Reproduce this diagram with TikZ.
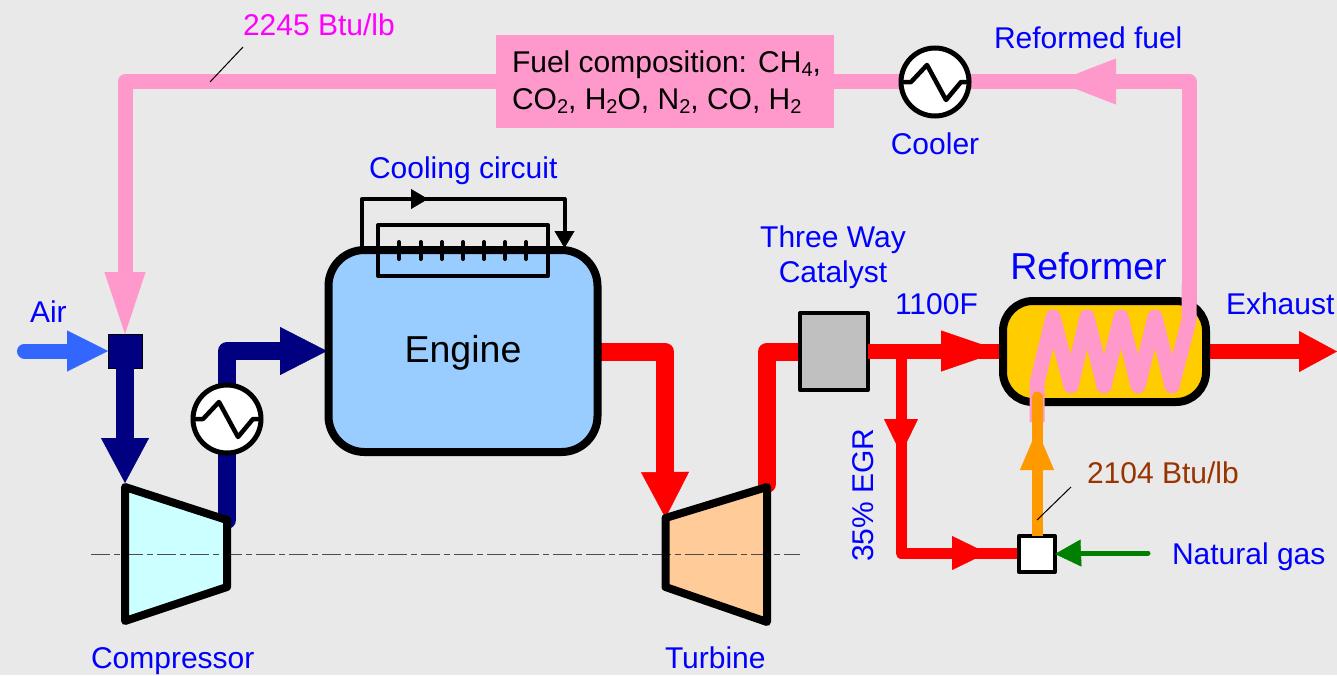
\documentclass[tikz,border=0pt]{standalone}
\usepackage{fontspec}
\setmainfont{Liberation Sans}
\usetikzlibrary{arrows.meta}
\definecolor{bgc}{HTML}{E9E9E9}
\definecolor{pinkc}{HTML}{FF99CC}
\definecolor{navyc}{HTML}{000080}
\definecolor{airc}{HTML}{3366FF}
\definecolor{redc}{HTML}{FF0000}
\definecolor{orangec}{HTML}{FF9900}
\definecolor{greenc}{HTML}{008000}
\definecolor{brownc}{HTML}{993300}
\definecolor{bluec}{HTML}{0000FF}
\definecolor{magc}{HTML}{FF00FF}
\definecolor{engc}{HTML}{99CCFF}
\definecolor{compc}{HTML}{CCFFFF}
\definecolor{turbc}{HTML}{FFCC99}
\definecolor{refc}{HTML}{FFCC00}
\definecolor{catc}{HTML}{C0C0C0}
\newcommand{\sbs}[1]{\raisebox{-4pt}{\fontsize{20}{20}\selectfont #1}}
\tikzset{
  lab/.style={anchor=base west,inner sep=0pt,outer sep=0pt,text=bluec,font=\fontsize{30}{36}\selectfont},
  labc/.style={anchor=base,inner sep=0pt,outer sep=0pt,text=bluec,font=\fontsize{30}{36}\selectfont},
  big/.style={anchor=base,inner sep=0pt,outer sep=0pt,font=\fontsize{37.5}{44}\selectfont},
  pipe/.style={line join=round,line width=#1},
  head/.style n args={2}{-{Triangle[length=#1pt,width=#2pt]}},
  hxcirc/.style={circle,draw=black,fill=white,line width=5pt,minimum size=68pt,inner sep=0pt,outer sep=0pt},
  hx/.pic={\draw[line width=4.5pt,line join=round,line cap=round] (-31,0) -- (-24,0) -- (-8,-17) -- (11,18) -- (26,0) -- (31,0);},
  leader/.style={line width=1pt,black},
  box/.style={draw=black,inner sep=0pt,outer sep=0pt},
  fueltext/.style={anchor=base west,inner sep=0pt,outer sep=0pt,font=\fontsize{30}{36}\selectfont},
  axisline/.style={line width=1pt,black!70,dash pattern=on 19pt off 4pt on 6pt off 4pt},
}
\begin{document}
\begin{tikzpicture}[x=1pt,y=-1pt]
\useasboundingbox[fill=bgc] (0,0) rectangle (1337,675);
% anchors
\coordinate (pTR) at (1189,81.5);
\coordinate (pTL) at (125,81.5);
\coordinate (airs) at (24.5,351);
\coordinate (comptl) at (125,487);
\coordinate (compout) at (227,520);
\coordinate (comptr) at (227,520);
\coordinate (compbr) at (227,587);
\coordinate (compbl) at (125,621);
\coordinate (compbend) at (227,351);
\coordinate (turbtl) at (665.5,518);
\coordinate (turbtr) at (767,487);
\coordinate (turbbr) at (767,622);
\coordinate (turbbl) at (665.5,587);
\coordinate (engbend) at (665,351.5);
\coordinate (turbout) at (767,487);
\coordinate (turbbend) at (767,351.5);
\coordinate (egrj) at (901,351);
\coordinate (egrc) at (901,553);
\coordinate (ngs) at (1148,553);
\coordinate (exh) at (1337,351.5);
\coordinate (axa) at (91,554);
\coordinate (axb) at (800,554);
% nodes that pipes attach to
\node[fill=pinkc,minimum width=338pt,minimum height=93pt,inner sep=0pt,outer sep=0pt] (fuel) at (665,81.5) {};
\coordinate (fuelw) at (496,81.5);
\coordinate (fuele) at (834,81.5);
% pink pipe
\draw[pinkc,pipe=15pt] (1189,320) -- (pTR) -- (fuele);
\draw[pinkc,pipe=15pt,head={63}{41}] (1117,81.5) -- (1053,81.5);
\draw[pinkc,pipe=15pt] (fuelw) -- (pTL) -- (125,280);
\draw[pinkc,head={62}{41}] (125,272) -- (125,334);
\node[hxcirc] (cooler) at (935,82) {};
\pic at (cooler) {hx};
% air and mixer
\node[fill=navyc,draw=black,line width=1pt,minimum size=34pt,inner sep=0pt,outer sep=0pt] (mix) at (125,351) {};
\draw[airc,line width=15pt,line cap=round] (airs) -- (70,351);
\draw[airc,head={41}{41}] (66.5,351) -- (mix.west);
% navy pipes
\draw[navyc,pipe=18pt] (mix.south) -- (125,445);
\draw[navyc,head={45}{48}] (125,438) -- (125,483);
\draw[navyc,pipe=18pt,line cap=round] (compout) -- (compbend) -- (285,351);
\draw[navyc,head={47}{48}] (280,351) -- (327,351);
% red: engine to turbine, turbine to catalyst
\draw[redc,pipe=18pt] (597,351.5) -- (engbend) -- (665,480);
\draw[redc,head={46}{48}] (665,472) -- (turbtl);
\draw[redc,pipe=18pt,line cap=round] (767,484) -- (turbbend) -- (805,351.5);
% fills and axis line
\fill[compc,line join=round] (comptl) -- (comptr) -- (compbr) -- (compbl) -- cycle;
\fill[turbc,line join=round] (turbtl) -- (turbtr) -- (turbbr) -- (turbbl) -- cycle;
\draw[axisline] (axa) -- (axb);
\draw[black,line width=8pt,line join=round] (comptl) -- (comptr) -- (compbr) -- (compbl) -- cycle;
\draw[black,line width=8pt,line join=round] (turbtl) -- (turbtr) -- (turbbr) -- (turbbl) -- cycle;
\node[hxcirc] (aftercool) at (227,419) {};
\pic at (aftercool) {hx};
% engine
\node[box,fill=engc,line width=8pt,rounded corners=36pt,minimum width=269pt,minimum height=202pt] (engine) at (463,351) {};
\node[big] (englab) at (463,362) {Engine};
\draw[line width=4pt,line join=round] (378,225) rectangle (548,276);
\foreach \x in {399,420.5,442,463,484,505,526}
  \draw[line width=4pt,line cap=round] (\x,242) -- (\x,259);
\coordinate (cs) at (362,250);
\coordinate (ce) at (564.5,248);
\draw[line width=4pt,line join=round] (cs) -- (362,199) -- (564.5,199) -- (564.5,235);
\draw[head={17}{20}] (410.5,199) -- (428,199);
\draw[head={17}{20}] (564.5,230.5) -- (ce);
% catalyst
\node[box,fill=catc,line width=4pt,line join=round,minimum width=68pt,minimum height=77pt] (cat) at (834,351.5) {};
% red: main stream and EGR
\draw[redc,pipe=15pt] (868,351) -- (1003,351);
\draw[redc,head={60}{41}] (941,351) -- (1001,351);
\draw[redc,pipe=11pt] (egrj) -- (egrc) -- (1020,553);
\draw[redc,head={35}{34}] (901,419) -- (901,454);
\draw[redc,head={35}{34}] (952,553) -- (987,553);
\node[box,fill=white,line width=4pt,line join=round,minimum size=36pt] (nmix) at (1037,554) {};
\draw[redc,pipe=15pt] (1201,351.5) -- (1300,351.5);
\draw[redc,head={38}{41}] (1299,351.5) -- (exh);
% reformer
\node[box,fill=refc,line width=8pt,rounded corners=30pt,minimum width=203pt,minimum height=101pt] (reformer) at (1104.5,351.5) {};
% coil
\draw[pinkc,line width=15pt,line join=round,line cap=butt] (1037,422) -- (1037,383) -- (1053,317) -- (1071,386) -- (1087,317) -- (1104,386) -- (1121,317) -- (1138,386) -- (1155,317) -- (1172,386) -- (1189,320) -- (1189,285);
% natural gas
\draw[orangec,line width=11pt,line cap=round] (1037,500) -- (1037,397);
\draw[orangec,line width=11pt] (nmix.north) -- (1037,495);
\draw[orangec,head={40}{34}] (1037,470) -- (1037,430);
\draw[greenc,line width=5pt,line cap=round] (ngs) -- (1078,553);
\draw[greenc,head={26}{27}] (1082,553) -- (nmix.east);
% leaders
\coordinate (l1a) at (210,82);
\coordinate (l1b) at (243,47);
\coordinate (l2a) at (1037,520);
\coordinate (l2b) at (1071,487);
\draw[leader] (l1a) -- (l1b);
\draw[leader] (l2a) -- (l2b);
% labels
\node[lab,text=magc] (t1) at (243,35) {2245 Btu/lb};
\node[lab] (t2) at (994,48) {Reformed fuel};
\node[labc] (t3) at (935,154) {Cooler};
\node[lab] (t4) at (369,178) {Cooling circuit};
\node[labc] (t5) at (833,247) {Three Way};
\node[labc] (t6) at (833,282) {Catalyst};
\node[lab] (t7) at (895,314) {1100F};
\node[big,text=bluec] (t8) at (1088.5,279) {Reformer};
\node[lab] (t9) at (1226,314) {Exhaust};
\node[lab] (t10) at (30,322) {Air};
\node[lab] (t11) at (91,668) {Compressor};
\node[lab] (t12) at (665,668) {Turbine};
\node[lab,text=brownc] (t13) at (1087,483) {2104 Btu/lb};
\node[lab] (t14) at (1172,564) {Natural gas};
\node[labc,rotate=90] (t15) at (873.5,495) {35\% EGR};
\node[fueltext] (f1) at (512,72) {Fuel composition: CH\sbs{4},};
\node[fueltext] (f2) at (512,109) {CO\sbs{2}, H\sbs{2}O, N\sbs{2}, CO, H\sbs{2}};
\end{tikzpicture}
\end{document}
